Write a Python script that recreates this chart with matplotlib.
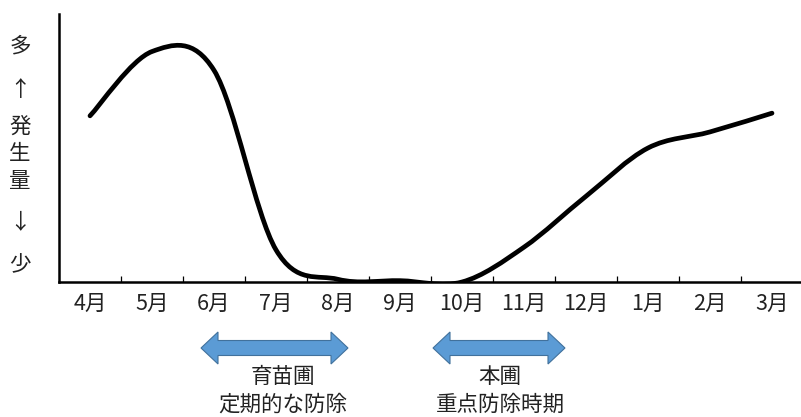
import numpy as np
import matplotlib
matplotlib.use("Agg")
import matplotlib.pyplot as plt
from matplotlib.path import Path
from matplotlib.patches import PathPatch

plt.rcParams['font.family'] = ['Noto Sans CJK JP', 'DejaVu Sans']

months = ["4月", "5月", "6月", "7月", "8月", "9月", "10月", "11月", "12月", "1月", "2月", "3月"]
occurrence = [62, 86, 79, 12, 1, 0.5, 0, 13, 32, 50, 56, 63]
ylabel_chars = ["多", "↑", "発", "生", "量", "↓", "少"]
nursery_text = ["育苗圃", "定期的な防除"]
field_text = ["本圃", "重点防除時期"]

W, H = 801, 417
FS = 15.5
TXT = "#222222"
fig = plt.figure(figsize=(W / 100, H / 100), dpi=100)
ax = fig.add_axes([59 / W, (H - 282) / H, 744 / W, 268 / H])

x = np.arange(len(months), dtype=float)
y = np.array(occurrence, dtype=float)

# Smoothed line: cubic Bezier segments through every data point
verts = [(x[0], y[0])]
codes = [Path.MOVETO]
n = len(x)
for i in range(n - 1):
    p0 = np.array([x[max(i - 1, 0)], y[max(i - 1, 0)]])
    p1 = np.array([x[i], y[i]])
    p2 = np.array([x[i + 1], y[i + 1]])
    p3 = np.array([x[min(i + 2, n - 1)], y[min(i + 2, n - 1)]])
    c1 = p1 + (p2 - p0) / 6.0
    c2 = p2 - (p3 - p1) / 6.0
    verts += [tuple(c1), tuple(c2), tuple(p2)]
    codes += [Path.CURVE4] * 3
curve = PathPatch(Path(verts, codes), facecolor="none", edgecolor="black",
                  lw=3.4, capstyle="round", joinstyle="round")
ax.add_patch(curve)

ax.set_xlim(-0.5, len(months) - 0.5)
ax.set_ylim(0, 100)

for side in ("top", "right"):
    ax.spines[side].set_visible(False)
for side in ("left", "bottom"):
    ax.spines[side].set_linewidth(1.8)
    ax.spines[side].set_color("black")

ax.set_yticks([])
ax.set_xticks(x)
ax.set_xticklabels(months, fontsize=FS, color=TXT)
ax.tick_params(axis="x", which="major", length=0, pad=8)
ax.set_xticks(np.arange(0.5, len(months) - 0.5, 1.0), minor=True)
ax.tick_params(axis="x", which="minor", direction="in", length=4, width=0.9)

# Vertical axis caption
ypos = [47, 90, 127, 154, 181, 222, 265]
for ch, yy in zip(ylabel_chars, ypos):
    fig.text(20 / W, 1 - yy / H, ch, fontsize=FS, ha="center", va="center",
             color=TXT)

# Control period double arrows
def double_arrow(x0, x1, yc, color="#5B9BD5", edge="#41719C"):
    hl = 17
    hw = 16
    sw = 7.5
    pts = [(x0, yc), (x0 + hl, yc - hw), (x0 + hl, yc - sw), (x1 - hl, yc - sw),
           (x1 - hl, yc - hw), (x1, yc), (x1 - hl, yc + hw), (x1 - hl, yc + sw),
           (x0 + hl, yc + sw), (x0 + hl, yc + hw), (x0, yc)]
    pts = [(px / W, 1 - py / H) for px, py in pts]
    poly = plt.Polygon(pts, closed=True, transform=fig.transFigure,
                       facecolor=color, edgecolor=edge, lw=0.8)
    fig.add_artist(poly)

double_arrow(201, 348, 348)
double_arrow(433, 565, 348)

for lines, cx in ((nursery_text, 283), (field_text, 500)):
    fig.text(cx / W, 1 - 377 / H, lines[0], fontsize=FS, ha="center",
             va="center", color=TXT)
    fig.text(cx / W, 1 - 405 / H, lines[1], fontsize=FS, ha="center",
             va="center", color=TXT)

fig.savefig("out.png", dpi=100)
